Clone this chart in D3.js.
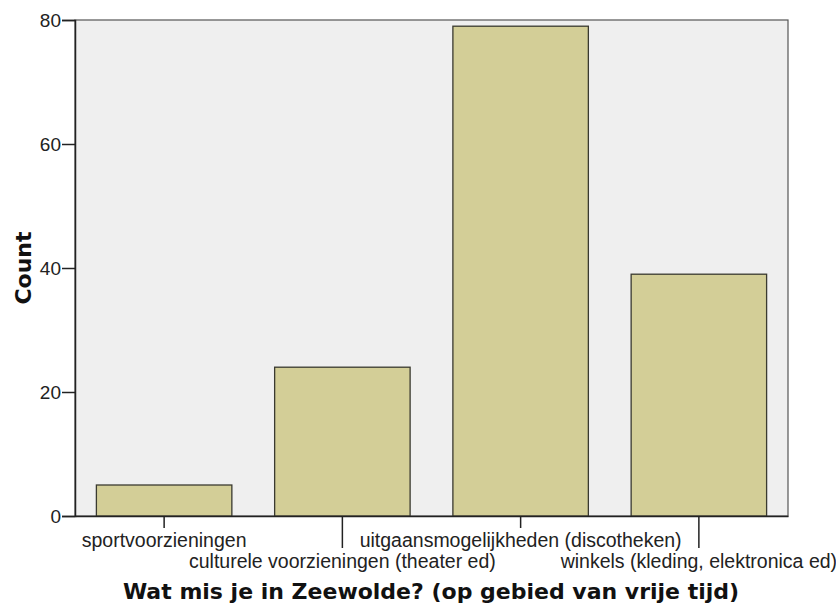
<!DOCTYPE html>
<html>
<head>
<meta charset="utf-8">
<script src="https://cdn.jsdelivr.net/npm/d3@7"></script>
<style>
  body { margin: 0; background: #fff; }
  svg { display: block; }
</style>
</head>
<body>
<div id="container"></div>
<script>
// chart data
const categories = [
    "sportvoorzieningen",
    "culturele voorzieningen (theater ed)",
    "uitgaansmogelijkheden (discotheken)",
    "winkels (kleding, elektronica ed)"
];
const counts = [5, 24, 79, 39];
const yTicks = [0, 20, 40, 60, 80];

const width = 836, height = 605;
const margin = { top: 20, right: 48, bottom: 89, left: 75 };
const plotW = width - margin.left - margin.right;
const plotH = height - margin.top - margin.bottom;

const svg = d3.select("#container").append("svg")
    .attr("width", width)
    .attr("height", height);

const g = svg.append("g")
    .attr("transform", `translate(${margin.left},${margin.top})`);

const x = d3.scaleBand()
    .domain(categories)
    .range([0, plotW])
    .paddingInner(0.24)
    .paddingOuter(0.12);

const y = d3.scaleLinear()
    .domain([0, 80])
    .range([plotH, 0]);

// plot background
g.append("rect")
    .attr("width", plotW)
    .attr("height", plotH)
    .attr("fill", "#efefef")
    .attr("stroke", "#555")
    .attr("stroke-width", 1.2);

// bars
g.selectAll("rect.bar")
    .data(categories)
    .enter().append("rect")
    .attr("class", "bar")
    .attr("x", d => x(d))
    .attr("y", (d, i) => y(counts[i]))
    .attr("width", x.bandwidth())
    .attr("height", (d, i) => plotH - y(counts[i]))
    .attr("fill", "#d3ce97")
    .attr("stroke", "#3a3a30")
    .attr("stroke-width", 1.3);

const labelFont = "Liberation Sans, Arial, sans-serif";

// y axis
const yAxis = g.append("g")
    .call(d3.axisLeft(y).tickValues(yTicks).tickSize(13).tickPadding(1));
yAxis.select(".domain").attr("stroke", "#222").attr("stroke-width", 1.5);
yAxis.selectAll(".tick line").attr("stroke", "#222").attr("stroke-width", 1.5);
yAxis.selectAll(".tick text")
    .attr("font-family", labelFont)
    .attr("font-size", 19)
    .attr("fill", "#222");

// x axis with alternating tick lengths
const xAxis = g.append("g")
    .attr("transform", `translate(0,${plotH})`)
    .call(d3.axisBottom(x).tickSize(0).tickPadding(0));
xAxis.select(".domain").attr("stroke", "#222").attr("stroke-width", 1.5);
xAxis.selectAll(".tick line")
    .attr("y2", (d, i) => i % 2 === 0 ? 12 : 32)
    .attr("stroke", "#222")
    .attr("stroke-width", 1.5);
xAxis.selectAll(".tick text")
    .attr("y", (d, i) => i % 2 === 0 ? 31 : 52)
    .attr("dy", 0)
    .attr("font-family", labelFont)
    .attr("font-size", 19.5)
    .attr("fill", "#222");

// axis titles
svg.append("text")
    .attr("transform", `translate(23,${margin.top + plotH / 2}) rotate(-90)`)
    .attr("text-anchor", "middle")
    .attr("dy", "0.35em")
    .attr("font-family", "DejaVu Sans, Verdana, sans-serif")
    .attr("font-weight", "bold")
    .attr("font-size", 22)
    .attr("fill", "#111")
    .text("Count");

svg.append("text")
    .attr("x", 431)
    .attr("y", 599)
    .attr("text-anchor", "middle")
    .attr("font-family", "DejaVu Sans, Verdana, sans-serif")
    .attr("font-weight", "bold")
    .attr("font-size", 22)
    .attr("fill", "#111")
    .text("Wat mis je in Zeewolde? (op gebied van vrije tijd)");
</script>
</body>
</html>
